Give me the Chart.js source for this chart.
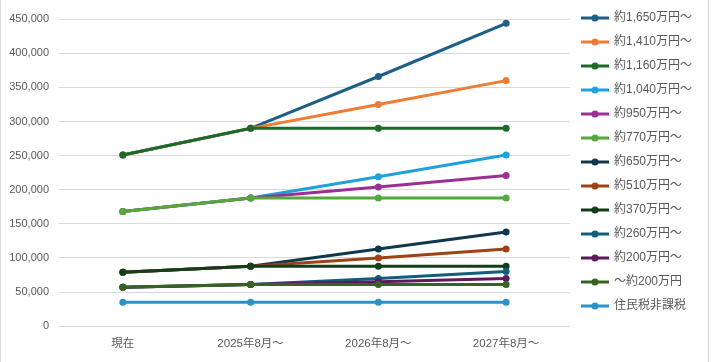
<!DOCTYPE html>
<html>
<head>
<meta charset="utf-8">
<script src="https://cdn.jsdelivr.net/npm/chart.js@4/dist/chart.umd.min.js"></script>
<style>
  html, body { margin: 0; padding: 0; background: #fff; }
  #wrap {
    position: absolute; left: 0; top: 0;
    width: 707px; height: 362px;
    border-left: 1px solid #d9d9d9; border-right: 1px solid #d9d9d9;
  }
</style>
</head>
<body>
<div id="wrap"><canvas id="chart" width="707" height="362"></canvas></div>
<script>
const labels = ['現在', '2025年8月～', '2026年8月～', '2027年8月～'];

const seriesNames = [
  '約1,650万円～', '約1,410万円～', '約1,160万円～', '約1,040万円～',
  '約950万円～', '約770万円～', '約650万円～', '約510万円～',
  '約370万円～', '約260万円～', '約200万円～', '～約200万円', '住民税非課税',
];

const v1650 = [251000, 290000, 366000, 444000];
const v1410 = [251000, 290000, 325000, 360000];
const v1160 = [251000, 290000, 290000, 290000];
const v1040 = [168000, 188000, 219000, 251000];
const v950  = [168000, 188000, 204000, 221000];
const v770  = [168000, 188000, 188000, 188000];
const v650  = [79000, 88000, 113000, 138000];
const v510  = [79000, 88000, 100000, 113000];
const v370  = [79000, 88000, 88000, 88000];
const v260  = [57000, 61000, 70000, 80000];
const v200  = [57000, 61000, 65000, 70000];
const vUnder200 = [57000, 61000, 61000, 61000];
const vExempt = [35000, 35000, 35000, 35000];

const seriesValues = [v1650, v1410, v1160, v1040, v950, v770, v650, v510, v370, v260, v200, vUnder200, vExempt];

const colors = [
  '#1d5f86', '#f07b35', '#1d6b28', '#1ea2dc',
  '#9c2f93', '#55a83a', '#10384d', '#9d4416',
  '#123f1a', '#0f5e7c', '#5c1a5a', '#366420', '#2a92c6',
];

const yTicks = [0, 50000, 100000, 150000, 200000, 250000, 300000, 350000, 400000, 450000];

const FONT = '"Liberation Sans", "Noto Sans CJK JP", sans-serif';

// line + dot marker for the legend
function legendMarker(color) {
  const c = document.createElement('canvas');
  c.width = 28; c.height = 10;
  const g = c.getContext('2d');
  g.strokeStyle = color; g.lineWidth = 3;
  g.beginPath(); g.moveTo(0, 5); g.lineTo(28, 5); g.stroke();
  g.fillStyle = color;
  g.beginPath(); g.arc(14, 5, 3.5, 0, Math.PI * 2); g.fill();
  return c;
}

const datasets = seriesNames.map((name, i) => ({
  label: name,
  data: seriesValues[i],
  borderColor: colors[i],
  backgroundColor: colors[i],
  borderWidth: 3,
  pointRadius: 3.5,
  pointBorderWidth: 0,
  pointHoverRadius: 4,
  tension: 0,
  order: -i,
}));

new Chart(document.getElementById('chart'), {
  type: 'line',
  data: { labels, datasets },
  options: {
    responsive: false,
    animation: false,
    layout: { padding: { top: 0, bottom: 0, left: 0, right: 6 } },
    plugins: {
      // empty spacer above the plot only, so the legend still starts at the top
      title: {
        display: true,
        text: '',
        fullSize: false,
        font: { size: 1 },
        padding: { top: 18, bottom: 0 },
      },
      legend: {
        position: 'right',
        align: 'start',
        labels: {
          usePointStyle: true,
          pointStyleWidth: 26,
          padding: 12,
          color: '#595959',
          font: { family: FONT, size: 12 },
          generateLabels: (chart) => chart.data.datasets.map((ds, i) => ({
            text: ds.label,
            datasetIndex: i,
            fillStyle: ds.borderColor,
            strokeStyle: ds.borderColor,
            fontColor: '#595959',
            pointStyle: legendMarker(ds.borderColor),
            hidden: false,
            lineWidth: 0,
          })),
        },
      },
      tooltip: { enabled: false },
    },
    scales: {
      x: {
        offset: true,
        grid: { display: false, drawTicks: false },
        border: { display: false },
        ticks: {
          padding: 11,
          maxRotation: 0,
          minRotation: 0,
          color: '#595959',
          font: { family: FONT, size: 11.5 },
        },
      },
      y: {
        min: 0,
        max: 450000,
        afterBuildTicks: (scale) => { scale.ticks = yTicks.map(v => ({ value: v })); },
        afterFit: (scale) => { scale.width = 58; },
        grid: { color: '#d9d9d9', lineWidth: 1, drawTicks: false },
        border: { display: false },
        ticks: {
          padding: 10,
          color: '#595959',
          font: { family: '"Liberation Sans", sans-serif', size: 11 },
          callback: (v) => v.toLocaleString('en-US'),
        },
      },
    },
  },
});
</script>
</body>
</html>
